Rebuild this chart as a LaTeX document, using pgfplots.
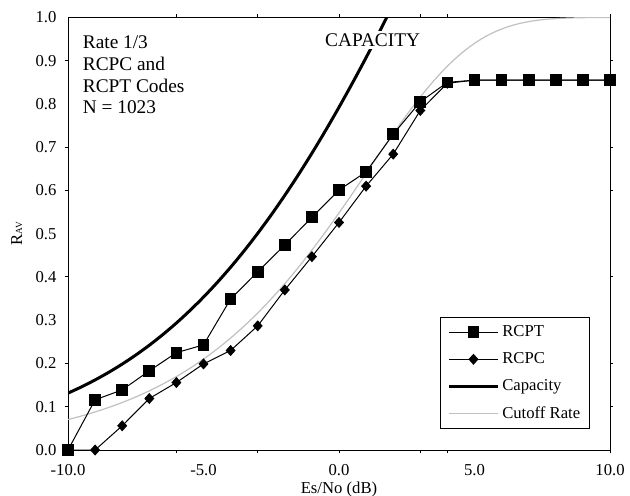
\documentclass[border=0pt]{standalone}
\usepackage{fontspec}
\setmainfont{Liberation Serif}
\usepackage{pgfplots}
\pgfplotsset{compat=1.18}
\definecolor{cutgray}{RGB}{192,192,192}
\begin{document}
\begin{tikzpicture}
\begin{axis}[
  scale only axis, width=406.5pt, height=324.4pt,
  xmin=-10, xmax=10, ymin=0, ymax=1,
  axis line style={black, line width=0.75pt},
  xtick={-10,-5,0,5,10},
  ytick={0,0.1,0.2,0.3,0.4,0.5,0.6,0.7,0.8,0.9,1.0},
  major tick length=0pt,
  extra x ticks={-6,-3,0,3,4,10},
  extra x tick labels={},
  extra y ticks={0.1,0.2,0.4,0.6,0.7,0.9},
  extra y tick labels={},
  extra tick style={major tick length=2.5pt, tick align=outside, grid=none, tick style={black, line width=0.75pt}},
  /pgf/number format/assume math mode=true,
  /pgf/number format/.cd, fixed, precision=1, fixed zerofill, /pgfplots/.cd,
  xticklabel style={font=\fontsize{12.5}{14}\selectfont, anchor=center, inner sep=0pt, yshift=-15pt},
  yticklabel style={font=\fontsize{12.5}{14}\selectfont, anchor=east, inner sep=0pt, xshift=-8.5pt},
  xlabel={Es/No (dB)},
  ylabel={R{\fontsize{7}{8}\selectfont AV}},
  xlabel style={font=\fontsize{12.5}{14}\selectfont, at={(axis description cs:0.5,0)}, anchor=center, yshift=-29.5pt},
  ylabel style={font=\fontsize{12.5}{14}\selectfont, at={(axis description cs:-0.0947,0.5)}, anchor=center},
  legend style={at={(0.963,0.0486)}, anchor=south east, draw=black, line width=0.6pt, fill=white,
    font=\fontsize{12.5}{14}\selectfont, row sep=6.5pt, inner xsep=5pt, inner ysep=4pt, cells={anchor=west}},
  legend image code/.code={\draw[mark repeat=2,mark phase=2,#1] plot coordinates {(0cm,0cm)(0.65cm,0cm)(1.3cm,0cm)};},
]
\addlegendimage{black, line width=0.75pt, mark=square*, mark size=4pt, mark options={solid}}
\addlegendentry{RCPT}
\addlegendimage{black, line width=0.75pt, mark=diamond*, mark size=3.6pt, mark options={solid, xscale=1.2}}
\addlegendentry{RCPC}
\addlegendimage{black, line width=2.25pt}
\addlegendentry{Capacity}
\addlegendimage{cutgray, line width=0.9pt}
\addlegendentry{Cutoff Rate}

% Cutoff rate
\addplot[cutgray, line width=0.9pt, smooth, forget plot] coordinates {
(-10,0.0703)(-9.5,0.0787)(-9,0.0880)(-8.5,0.0983)(-8,0.1098)(-7.5,0.1226)(-7,0.1368)(-6.5,0.1525)
(-6,0.1698)(-5.5,0.1890)(-5,0.2102)(-4.5,0.2334)(-4,0.2588)(-3.5,0.2865)(-3,0.3167)(-2.5,0.3494)
(-2,0.3845)(-1.5,0.4221)(-1,0.4621)(-0.5,0.5042)(0,0.5481)(0.5,0.5933)(1,0.6394)(1.5,0.6856)
(2,0.7310)(2.5,0.7748)(3,0.8161)(3.5,0.8538)(4,0.8875)(4.5,0.9163)(5,0.9402)(5.5,0.9591)
(6,0.9733)(6.5,0.9835)(7,0.9904)(7.5,0.9948)(8,0.9974)(8.5,0.9988)(9,0.9995)(9.5,0.9998)(10,0.9999)};

% Capacity
\addplot[black, line width=2.25pt, smooth, forget plot] coordinates {
(-10,0.1315)(-9.5,0.1460)(-9,0.1620)(-8.5,0.1795)(-8,0.1986)(-7.5,0.2195)(-7,0.2422)(-6.5,0.2669)
(-6,0.2936)(-5.5,0.3225)(-5,0.3535)(-4.5,0.3868)(-4,0.4225)(-3.5,0.4605)(-3,0.5009)(-2.5,0.5436)
(-2,0.5888)(-1.5,0.6363)(-1,0.6861)(-0.5,0.7382)(0,0.7925)(0.5,0.8489)(1,0.9073)(1.5,0.9677)(2,1.0300)};

% RCPC
\addplot[black, line width=0.75pt, mark=diamond*, mark size=3.6pt, mark options={solid, xscale=1.2}, forget plot] coordinates {
(-10,0)(-9,0.0)(-8,0.056)(-7,0.119)(-6,0.156)(-5,0.199)(-4,0.230)(-3,0.287)(-2,0.370)(-1,0.447)
(0,0.526)(1,0.610)(2,0.684)(3,0.785)(4,0.848)(5,0.855)(6,0.855)(7,0.855)(8,0.855)(9,0.855)(10,0.855)};

% RCPT
\addplot[black, line width=0.75pt, mark=square*, mark size=4pt, mark options={solid}, forget plot] coordinates {
(-10,0)(-9,0.116)(-8,0.139)(-7,0.183)(-6,0.225)(-5,0.243)(-4,0.349)(-3,0.412)(-2,0.474)(-1,0.538)
(0,0.601)(1,0.643)(2,0.730)(3,0.805)(4,0.850)(5,0.855)(6,0.855)(7,0.855)(8,0.855)(9,0.855)(10,0.855)};

\node[anchor=north west, align=left, inner sep=0pt, font=\fontsize{14.5}{16.3}\selectfont]
  at (rel axis cs:0.027,0.958) {Rate 1/3\\RCPC and\\RCPT Codes\\N = 1023};
\node[fill=white, inner sep=2pt, font=\fontsize{14.5}{16}\selectfont] at (axis cs:1.24,0.948) {CAPACITY};
\end{axis}
\pgfresetboundingbox
\path ([shift={(-51pt,-33.75pt)}]current axis.south west) rectangle ([shift={(15pt,13.1pt)}]current axis.north east);
\end{tikzpicture}
\end{document}
